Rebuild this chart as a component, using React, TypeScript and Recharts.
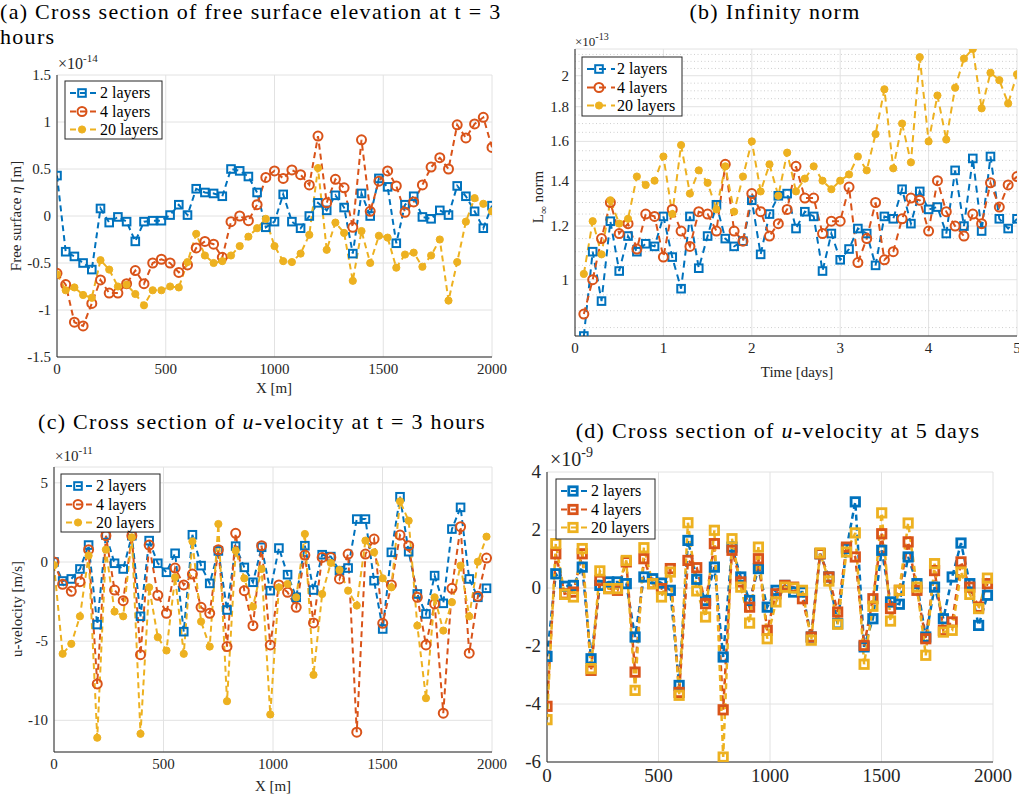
import { CartesianGrid, Line, LineChart, ReferenceLine, XAxis, YAxis } from 'recharts'

const BLUE = '#0072BD'
const ORANGE = '#D95319'
const YELLOW = '#EDB120'
const INK = '#262626'
const GRID = '#e2e2e2'
const SERIF = 'Liberation Serif, Times New Roman, serif'

const layerNames = ['2 layers', '4 layers', '20 layers']

// (a) free surface elevation at t = 3 h, in 1e-14 m
const xA = [0, 40, 80, 120, 160, 200, 240, 280, 320, 360, 400, 440, 480, 520, 560, 600, 640, 680, 720, 760, 800, 840, 880, 920, 960, 1000,
  1040, 1080, 1120, 1160, 1200, 1240, 1280, 1320, 1360, 1400, 1440, 1480, 1520, 1560, 1600, 1640, 1680, 1720, 1760, 1800, 1840, 1880, 1920, 1960, 2000]
const a2 = [0.43, -0.38, -0.43, -0.5, -0.57, 0.08, -0.07, -0.01, -0.06, -0.27, -0.06, -0.05, -0.05, 0.01, 0.12, 0.01, 0.29, 0.25, 0.24, 0.21, 0.5, 0.48, 0.42, 0.25,
  -0.12, -0.06, 0.23, -0.06, -0.13, 0.0, 0.14, 0.06, 0.22, 0.09, -0.4, 0.24, 0.0, 0.4, 0.31, -0.29, 0.12, 0.21, -0.01, -0.03, 0.06, 0.01, 0.32, 0.21, 0.05, -0.13, 0.11]
const a4 = [-0.61, -0.73, -1.13, -1.17, -0.93, -0.68, -0.82, -0.82, -0.72, -0.58, -0.72, -0.5, -0.46, -0.5, -0.6, -0.52, -0.34, -0.27, -0.3, -0.44, -0.06, 0.0, -0.05, 0.12,
  0.41, 0.48, 0.4, 0.49, 0.44, 0.33, 0.85, 0.14, 0.39, 0.3, -0.12, 0.81, 0.05, 0.37, 0.48, 0.32, 0.04, 0.15, 0.33, 0.52, 0.62, 0.5, 0.97, 0.83, 0.98, 1.05, 0.73]
const a20 = [-0.62, -0.79, -0.76, -0.84, -0.87, -0.47, -0.57, -0.75, -0.73, -0.83, -0.95, -0.79, -0.79, -0.75, -0.76, -0.49, -0.19, -0.42, -0.5, -0.48, -0.42, -0.32, -0.22, -0.13,
  -0.03, -0.32, -0.48, -0.49, -0.4, -0.2, 0.51, -0.36, -0.07, -0.18, -0.69, -0.16, -0.5, -0.21, -0.23, -0.55, -0.41, -0.39, -0.54, -0.42, -0.25, -0.9, -0.49, -0.06, 0.19, 0.13, 0.05]

// (b) infinity norm over time, in 1e-13
const xB = [0.1, 0.2, 0.3, 0.4, 0.5, 0.6, 0.7, 0.8, 0.9, 1.0, 1.1, 1.2, 1.3, 1.4, 1.5, 1.6, 1.7, 1.8, 1.9, 2.0, 2.1, 2.2, 2.3, 2.4, 2.5,
  2.6, 2.7, 2.8, 2.9, 3.0, 3.1, 3.2, 3.3, 3.4, 3.5, 3.6, 3.7, 3.8, 3.9, 4.0, 4.1, 4.2, 4.3, 4.4, 4.5, 4.6, 4.7, 4.8, 4.9, 5.0]
const b2 = [0.826, 1.1, 0.93, 1.22, 1.03, 1.16, 1.1, 1.13, 1.12, 1.24, 1.08, 0.97, 1.24, 1.04, 1.16, 1.29, 1.15, 1.12, 1.14, 1.31, 1.09, 1.25,
  1.33, 1.34, 1.19, 1.26, 1.24, 1.03, 1.17, 1.07, 1.11, 1.19, 1.17, 1.05, 1.24, 1.23, 1.36, 1.21, 1.35, 1.27, 1.28, 1.17, 1.45, 1.2, 1.51, 1.18, 1.52, 1.23, 1.19, 1.23]
const b4 = [0.89, 1.0, 1.15, 1.3, 1.17, 1.21, 1.11, 1.25, 1.24, 1.08, 1.27, 1.18, 1.12, 1.26, 1.25, 1.18, 1.48, 1.18, 1.14, 1.34, 1.26, 1.16,
  1.21, 1.27, 1.47, 1.32, 1.32, 1.17, 1.22, 1.22, 1.37, 1.06, 1.15, 1.3, 1.07, 1.1, 1.23, 1.32, 1.31, 1.18, 1.4, 1.26, 1.2, 1.16, 1.25, 1.21, 1.39, 1.28, 1.38, 1.42]
const b20 = [1.02, 1.22, 1.09, 1.31, 1.21, 1.23, 1.42, 1.38, 1.4, 1.52, 1.25, 1.58, 1.34, 1.45, 1.39, 1.27, 1.47, 1.26, 1.42, 1.6, 1.35, 1.48,
  1.33, 1.54, 1.35, 1.41, 1.47, 1.4, 1.36, 1.4, 1.43, 1.52, 1.45, 1.64, 1.91, 1.46, 1.7, 1.49, 2.13, 1.6, 1.87, 1.61, 1.92, 2.12, 2.19, 1.79, 2.02, 1.97, 1.82, 2.01]
const bTicks = [1, 1.2, 1.4, 1.6, 1.8, 2]
const bMinor = [0.85, 0.9, 0.95, 1.05, 1.1, 1.15, 1.25, 1.3, 1.35, 1.45, 1.5, 1.55, 1.65, 1.7, 1.75, 1.85, 1.9, 1.95, 2.05, 2.1, 2.15]

// (c) and (d) share the velocity nodes
const xU = [0, 39.5, 79, 118.5, 158, 197.5, 237, 276.5, 316, 355.5, 395, 434.5, 474, 513.5, 553, 592.5, 632, 671.5, 711, 750.5, 790, 829.5, 869, 908.5, 948,
  987.5, 1027, 1066.5, 1106, 1145.5, 1185, 1224.5, 1264, 1303.5, 1343, 1382.5, 1422, 1461.5, 1501, 1540.5, 1580, 1619.5, 1659, 1698.5, 1738, 1777.5, 1817, 1856.5, 1896, 1935.5, 1975]

// (c) u-velocity at t = 3 h, in 1e-11 m/s
const c2 = [0, -1.2, -1.07, -0.44, 1.07, -3.95, 1.7, -0.08, -0.44, 1.66, -3.43, 1.35, -0.08, -0.65, 0.55, -4.4, 1.72, -0.23, -1.35, 0.7, -3.03, 1.0, -0.34,
  -1.28, 0.93, -1.81, 0.88, -0.8, -2.23, 1.03, -1.77, 0.46, 0.34, -0.55, -0.38, 2.71, 2.71, -1.18, -4.23, 0.61, 4.12, 0.65, -2.02, -3.28, -0.86, -2.61, 2.08, 3.45, -1.07, -2.23, -1.66]
const c4 = [0, -1.41, -1.85, -1.24, 0.78, -7.7, 1.66, -1.77, -2.44, 1.66, -5.85, 1.07, -2.1, -3.24, -0.38, -1.45, -0.76, -2.86, -3.24, 0.78, -5.34, 1.81, -1.81,
  -4.02, 1.03, -5.24, -1.45, -1.91, -2.86, 0.44, -3.85, 0.29, 0.29, -1.07, 0.5, -10.75, 0.5, 1.45, -3.87, -1.45, 1.7, 1.03, -2.23, -5.24, -2.65, -9.55, -1.66, 2.23, -5.76, -2.17, 0.25]
const c20 = [-0.2, -5.8, -5.17, -3.43, 0.4, -11.1, 0.78, -3.13, -3.43, 1.56, -10.85, -1.6, -4.75, -5.59, -0.97, -5.8, 1.3, -3.76, -5.34, 2.4, -8.79, 0.72, -1.03,
  -2.82, -0.44, -9.63, -1.6, -1.39, -2.23, 1.77, -7.13, -2.02, -0.06, -0.5, -1.81, -2.75, 1.35, 0.61, -1.03, -1.6, 3.83, 2.61, -4.02, -8.6, -2.23, -4.33, -2.54, -0.23, -3.43, 0.02, 1.6]

// (d) u-velocity at 5 days, in 1e-9 m/s
const d2 = [-2.36, 0.49, 0.06, 0.09, 0.72, -2.44, 0.09, 0.21, 0.21, 0.15, -1.69, 0.38, 0.32, 0.17, -0.08, -3.36, 1.64, 0.3, -0.43, 0.72, -2.38, 1.41, 0.38, -0.43, 0.67,
  -0.66, -0.08, 0.09, -0.14, -0.14, -1.69, 1.18, 0.38, -1.23, 1.36, 2.97, -2.03, -1.06, 1.3, -0.48, -0.56, 1.07, 0.15, -1.69, 0.03, -1.06, 0.38, 1.55, 0.15, -1.29, -0.25]
const d4 = [-4.08, 1.18, -0.2, -0.14, 1.18, -2.84, 0.26, -0.02, -0.08, 0.9, -2.9, 1.01, 0.15, -0.02, 0.67, -3.6, 0.95, 0.7, -0.54, 1.53, -4.2, 1.3, 0.21, -0.66, 1.01,
  -1.46, -0.2, 0.09, 0.03, -0.37, -1.69, 1.18, 0.38, -0.83, 1.41, 1.07, -1.98, -0.37, 1.87, -0.71, -0.08, 1.59, -0.08, -1.75, 0.6, -1.46, -1.17, 0.9, 0.03, -0.66, 0.15]
const d20 = [-4.54, 1.53, -0.22, -0.31, 1.36, -2.78, 0.59, -0.02, -0.02, 0.95, -3.53, 1.39, 0.15, -0.31, 0.55, -3.7, 2.25, -0.1, -1.0, 1.99, -5.83, 1.7, 0.03, -1.21, 1.41,
  -1.75, -0.48, 0.03, 0, -0.08, -1.8, 1.21, 0.24, -1.25, 1.24, 1.9, -2.63, -0.63, 2.59, -1.14, -0.08, 2.24, 0.03, -2.32, 0.84, -1.52, -1.46, 0.55, -0.22, -0.71, 0.34]

const xTicksM = [0, 500, 1000, 1500, 2000]

const table = (x: number[], s2: number[], s4: number[], s20: number[]) =>
  x.map((v, i) => ({ x: v, s2: s2[i], s4: s4[i], s20: s20[i] }))

type Kind = 'square' | 'circle' | 'dot' | 'bigsquare'

function Shape({ kind, color, cx, cy }: { kind: Kind; color: string; cx: number; cy: number }) {
  if (kind === 'square') return <rect x={cx - 3.8} y={cy - 3.8} width={7.6} height={7.6} fill="none" stroke={color} strokeWidth={2} />
  if (kind === 'bigsquare') return <rect x={cx - 4.2} y={cy - 4.2} width={8.4} height={8.4} fill="none" stroke={color} strokeWidth={2.8} />
  if (kind === 'circle') return <circle cx={cx} cy={cy} r={4.5} fill="none" stroke={color} strokeWidth={2} />
  return <circle cx={cx} cy={cy} r={3.6} fill={color} stroke={color} strokeWidth={1} />
}

const dotFor = (kind: Kind, color: string) => (p: any) =>
  p.cx == null || p.cy == null ? <g key={p.index} /> : (
    <g key={p.index}><Shape kind={kind} color={color} cx={p.cx} cy={p.cy} /></g>
  )

const xTick = (fs: number) => (p: any) => (
  <text x={p.x} y={p.y} dy={fs * 0.72} textAnchor="middle" fontSize={fs} fontFamily={SERIF} fill={INK}>{p.payload.value}</text>
)
const yTick = (fs: number) => (p: any) => (
  <text x={p.x} y={p.y} dy={fs * 0.33} textAnchor="end" fontSize={fs} fontFamily={SERIF} fill={INK}>{p.payload.value}</text>
)

interface PanelProps {
  rect: [number, number, number, number]
  data: any[]
  xDomain: [number, number]
  xTicks: number[]
  yDomain: [number, number]
  yTicks: number[]
  log?: boolean
  minor?: number[]
  fs: number
  dash: string
  kinds: Kind[]
  lw: number
}

function Panel({ rect, data, xDomain, xTicks, yDomain, yTicks, log, minor, fs, dash, kinds, lw }: PanelProps) {
  const [L, T, R, B] = rect
  const yw = 50
  const xh = 34
  const mt = 16
  const mr = 26
  const keys = ['s2', 's4', 's20']
  const colors = [BLUE, ORANGE, YELLOW]
  const yScale = log ? 'log' : 'linear'
  return (
    <div style={{ position: 'absolute', left: L - yw, top: T - mt }}>
      <LineChart width={R - L + yw + mr} height={B - T + mt + xh} data={data} margin={{ top: mt, right: mr, bottom: 0, left: 0 }}>
        <CartesianGrid stroke={GRID} />
        {minor?.map((v) => (
          <ReferenceLine key={v} y={v} stroke="#cfcfcf" strokeDasharray="1 2.5" />
        ))}
        <XAxis xAxisId="bi" type="number" dataKey="x" domain={xDomain} ticks={xTicks} height={0} mirror tick={false} tickSize={5} stroke={INK} allowDataOverflow />
        <XAxis type="number" dataKey="x" domain={xDomain} ticks={xTicks} interval={0} height={xh} tick={xTick(fs)} tickLine={false} tickSize={0} tickMargin={6} stroke={INK} allowDataOverflow />
        <XAxis xAxisId="t" orientation="top" type="number" dataKey="x" domain={xDomain} ticks={xTicks} height={0} mirror tick={false} tickSize={5} stroke={INK} allowDataOverflow />
        <YAxis yAxisId="li" type="number" scale={yScale} domain={yDomain} ticks={yTicks} width={0} mirror tick={false} tickSize={5} stroke={INK} allowDataOverflow />
        <YAxis type="number" scale={yScale} domain={yDomain} ticks={yTicks} interval={0} width={yw} tick={yTick(fs)} tickLine={false} tickSize={0} tickMargin={6} stroke={INK} allowDataOverflow />
        <YAxis yAxisId="r" orientation="right" type="number" scale={yScale} domain={yDomain} ticks={yTicks} width={0} mirror tick={false} tickSize={5} stroke={INK} allowDataOverflow />
        {keys.map((k, i) => (
          <Line key={k} type="linear" dataKey={k} stroke={colors[i]} strokeWidth={lw} strokeDasharray={dash}
            dot={dotFor(kinds[i], colors[i])} activeDot={false} isAnimationActive={false} />
        ))}
      </LineChart>
    </div>
  )
}

function LegendBox({ x, y, w, h, kinds, dash }: { x: number; y: number; w: number; h: number; kinds: Kind[]; dash: string }) {
  const colors = [BLUE, ORANGE, YELLOW]
  const rowY = [12, 30.5, 48.5]
  return (
    <g>
      <rect x={x} y={y} width={w} height={h} fill="#fff" stroke={INK} strokeWidth={1} />
      {layerNames.map((name, i) => (
        <g key={name}>
          <line x1={x + 5} x2={x + 33} y1={y + rowY[i]} y2={y + rowY[i]} stroke={colors[i]} strokeWidth={2} strokeDasharray={dash} />
          <Shape kind={kinds[i]} color={colors[i]} cx={x + 17} cy={y + rowY[i]} />
          <text x={x + 35} y={y + rowY[i] + 5} fontSize={16} fontFamily={SERIF} fill="#000">{name}</text>
        </g>
      ))}
    </g>
  )
}

const title = { fontFamily: SERIF, fontSize: 22, letterSpacing: 1.3, fill: '#000' }
const label = { fontFamily: SERIF, fontSize: 15, fill: INK }

export default function App() {
  return (
    <div style={{ position: 'absolute', left: 0, top: 0, width: 1019, height: 799, background: '#fff', overflow: 'hidden' }}>
      <Panel rect={[57, 75, 492, 357]} data={table(xA, a2, a4, a20)} xDomain={[0, 2000]} xTicks={xTicksM}
        yDomain={[-1.5, 1.5]} yTicks={[-1.5, -1, -0.5, 0, 0.5, 1, 1.5]} fs={15} dash="6 4" kinds={['square', 'circle', 'dot']} lw={2} />
      <Panel rect={[575, 49, 1017, 336]} data={table(xB, b2, b4, b20)} xDomain={[0, 5]} xTicks={[0, 1, 2, 3, 4, 5]}
        yDomain={[0.826, 2.19]} yTicks={bTicks} log minor={bMinor} fs={15} dash="7 5" kinds={['square', 'circle', 'dot']} lw={2} />
      <Panel rect={[54, 467, 492, 752]} data={table(xU, c2, c4, c20)} xDomain={[0, 2000]} xTicks={xTicksM}
        yDomain={[-12, 6]} yTicks={[-10, -5, 0, 5]} fs={15} dash="6 4" kinds={['square', 'circle', 'dot']} lw={2} />
      <Panel rect={[547, 472, 993, 762]} data={table(xU, d2, d4, d20)} xDomain={[0, 2000]} xTicks={xTicksM}
        yDomain={[-6, 4]} yTicks={[-6, -4, -2, 0, 2, 4]} fs={19} dash="6 4" kinds={['bigsquare', 'bigsquare', 'bigsquare']} lw={2.5} />

      <svg width={1019} height={799} style={{ position: 'absolute', left: 0, top: 0, pointerEvents: 'none' }}>
        <text x={0} y={19} {...title}>(a) Cross section of free surface elevation at t = 3</text>
        <text x={0} y={44} {...title}>hours</text>
        <text x={775} y={19} textAnchor="middle" {...title}>(b) Infinity norm</text>
        <text x={262} y={429} textAnchor="middle" {...title}>(c) Cross section of <tspan fontStyle="italic">u</tspan>-velocity at t = 3 hours</text>
        <text x={778} y={438} textAnchor="middle" {...title}>(d) Cross section of <tspan fontStyle="italic">u</tspan>-velocity at 5 days</text>

        <text x={58} y={69} fontFamily={SERIF} fontSize={16} fill={INK}>×10<tspan dy={-7} fontSize={11}>-14</tspan></text>
        <text x={575} y={46} fontFamily={SERIF} fontSize={13} fill={INK}>×10<tspan dy={-6} fontSize={10}>-13</tspan></text>
        <text x={55} y={461} fontFamily={SERIF} fontSize={15} fill={INK}>×10<tspan dy={-7} fontSize={11}>-11</tspan></text>
        <text x={550} y={466} fontFamily={SERIF} fontSize={20} fill={INK}>×10<tspan dy={-9} fontSize={14}>-9</tspan></text>

        <text x={274} y={393} textAnchor="middle" {...label}>X [m]</text>
        <text x={797} y={377} textAnchor="middle" {...label}>Time [days]</text>
        <text x={273} y={791} textAnchor="middle" {...label}>X [m]</text>
        <text x={21} y={216} textAnchor="middle" transform="rotate(-90 21 216)" {...label}>Free surface <tspan fontStyle="italic">η</tspan> [m]</text>
        <text x={22} y={609} textAnchor="middle" transform="rotate(-90 22 609)" {...label}>u-velocity [m/s]</text>
        <text x={543} y={197} textAnchor="middle" transform="rotate(-90 543 197)" {...label}>L<tspan fontSize={11} dy={4}>∞</tspan><tspan dy={-4}> norm</tspan></text>

        <LegendBox x={65} y={81} w={97} h={58} kinds={['square', 'circle', 'dot']} dash="6 4" />
        <LegendBox x={582} y={57} w={100} h={59} kinds={['square', 'circle', 'dot']} dash="7 5" />
        <LegendBox x={61} y={474} w={99} h={58} kinds={['square', 'circle', 'dot']} dash="6 4" />
        <LegendBox x={556} y={479} w={99} h={60} kinds={['bigsquare', 'bigsquare', 'bigsquare']} dash="6 4" />
      </svg>
    </div>
  )
}
